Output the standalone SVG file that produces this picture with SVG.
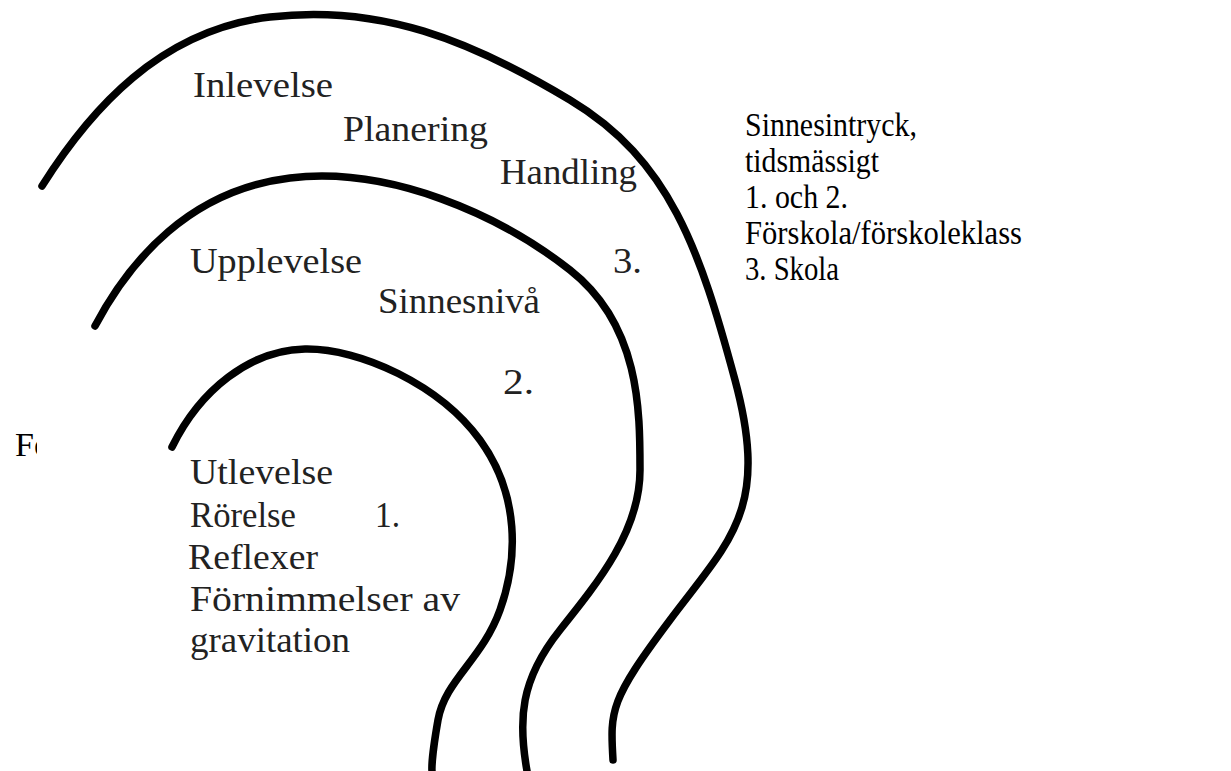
<svg xmlns="http://www.w3.org/2000/svg" width="1231" height="771" viewBox="0 0 1231 771">
<style>
.curve{fill:none;stroke:#000;stroke-width:7.5;stroke-linecap:round;stroke-linejoin:round}
.scan{font-family:"Liberation Serif","Times New Roman",serif;font-size:35px;fill:#222}
.print{font-family:"Liberation Serif","Times New Roman",serif;font-size:34px;fill:#000}
</style>
<defs>
<clipPath id="clipF"><rect x="0" y="400" width="37" height="80"/></clipPath>
</defs>
<rect width="1231" height="771" fill="#fff"/>
<g id="curves">
<path id="curve3" class="curve" d="M42,186 C90,110 160,30 270,17 S470,40 570,100 S700,250 735,380 S730,540 670,620 S610,710 613,760"/>
<path id="curve2" class="curve" d="M95,326 C130,260 190,190 290,178 S500,215 570,270 S640,410 640,470 S600,580 560,630 S518,720 527,771"/>
<path id="curve1" class="curve" d="M172,447 C200,390 250,350 305,349 S440,385 480,440 S518,560 500,610 S445,680 438,720 S432,771 432,771"/>
</g>
<g id="level3">
<text class="scan" x="193" y="97" textLength="140" lengthAdjust="spacingAndGlyphs">Inlevelse</text>
<text class="scan" x="343" y="141" textLength="145" lengthAdjust="spacingAndGlyphs">Planering</text>
<text class="scan" x="500" y="184" textLength="137" lengthAdjust="spacingAndGlyphs">Handling</text>
<text class="scan" x="613" y="273" textLength="29" lengthAdjust="spacingAndGlyphs">3.</text>
</g>
<g id="level2">
<text class="scan" x="190" y="273" textLength="172" lengthAdjust="spacingAndGlyphs">Upplevelse</text>
<text class="scan" x="378" y="313" textLength="162" lengthAdjust="spacingAndGlyphs">Sinnesnivå</text>
<text class="scan" x="503" y="394" textLength="31" lengthAdjust="spacingAndGlyphs">2.</text>
</g>
<g id="level1">
<text class="scan" x="190" y="484" textLength="143" lengthAdjust="spacingAndGlyphs">Utlevelse</text>
<text class="scan" x="190" y="527" textLength="106" lengthAdjust="spacingAndGlyphs">Rörelse</text>
<text class="scan" x="375" y="527" textLength="25" lengthAdjust="spacingAndGlyphs">1.</text>
<text class="scan" x="188" y="569" textLength="130" lengthAdjust="spacingAndGlyphs">Reflexer</text>
<text class="scan" x="190" y="611" textLength="270" lengthAdjust="spacingAndGlyphs">Förnimmelser av</text>
<text class="scan" x="190" y="652" textLength="160" lengthAdjust="spacingAndGlyphs">gravitation</text>
</g>
<g id="clipped-label">
<text class="print" x="15" y="456" clip-path="url(#clipF)">Fö</text>
</g>
<g id="legend">
<text class="print" x="745" y="136" textLength="172" lengthAdjust="spacingAndGlyphs">Sinnesintryck,</text>
<text class="print" x="745" y="172" textLength="134" lengthAdjust="spacingAndGlyphs">tidsmässigt</text>
<text class="print" x="745" y="208" textLength="103" lengthAdjust="spacingAndGlyphs">1. och 2.</text>
<text class="print" x="745" y="244" textLength="277" lengthAdjust="spacingAndGlyphs">Förskola/förskoleklass</text>
<text class="print" x="745" y="280" textLength="94" lengthAdjust="spacingAndGlyphs">3. Skola</text>
</g>
</svg>
